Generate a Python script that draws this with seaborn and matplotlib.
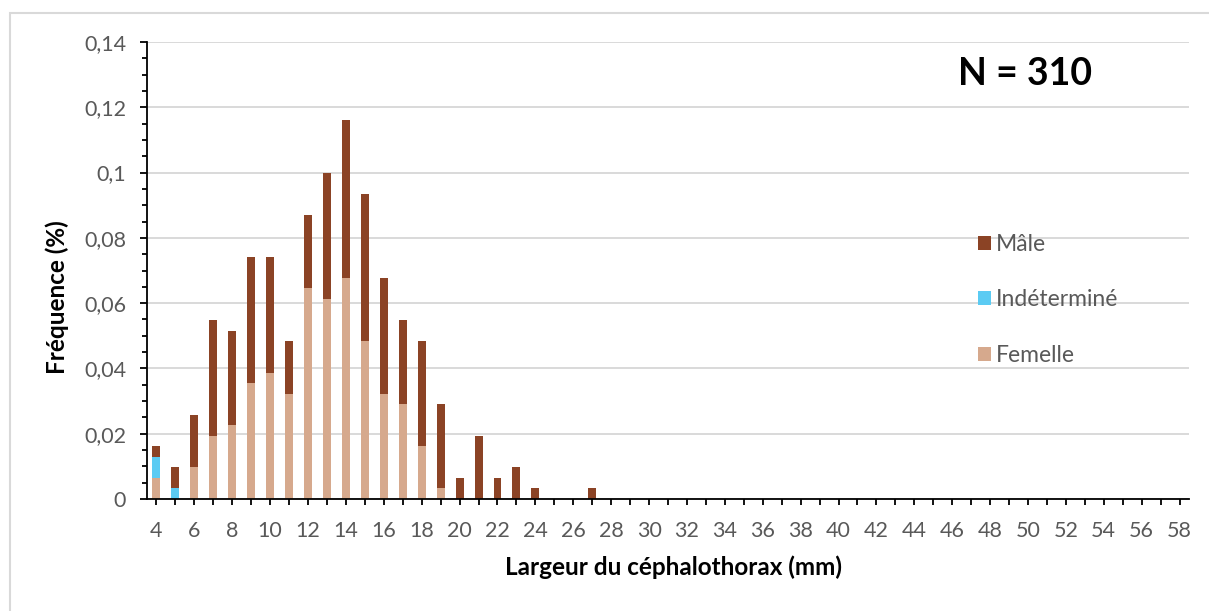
import matplotlib
matplotlib.use("Agg")
import matplotlib.pyplot as plt
import seaborn as sns
import pandas as pd
import numpy as np
from matplotlib.patches import Rectangle
from matplotlib.ticker import MultipleLocator

# ---- data (counts, N = 310) ----
sizes = [4, 5, 6, 7, 8, 9, 10, 11, 12, 13, 14, 15, 16, 17, 18, 19, 20, 21, 22, 23,
         24, 25, 26, 27, 28, 29, 30, 31, 32, 33, 34, 35, 36, 37, 38, 39, 40, 41, 42,
         43, 44, 45, 46, 47, 48, 49, 50, 51, 52, 53, 54, 55, 56, 57, 58]
femelle = [2, 0, 3, 6, 7, 11, 12, 10, 20, 19, 21, 15, 10, 9, 5, 1, 0, 0, 0, 0,
           0, 0, 0, 0, 0, 0, 0, 0, 0, 0, 0, 0, 0, 0, 0, 0, 0, 0, 0,
           0, 0, 0, 0, 0, 0, 0, 0, 0, 0, 0, 0, 0, 0, 0, 0]
indetermine = [2, 1, 0, 0, 0, 0, 0, 0, 0, 0, 0, 0, 0, 0, 0, 0, 0, 0, 0, 0,
               0, 0, 0, 0, 0, 0, 0, 0, 0, 0, 0, 0, 0, 0, 0, 0, 0, 0, 0,
               0, 0, 0, 0, 0, 0, 0, 0, 0, 0, 0, 0, 0, 0, 0, 0]
male = [1, 2, 5, 11, 9, 12, 11, 5, 7, 12, 15, 14, 11, 8, 10, 8, 2, 6, 2, 3,
        1, 0, 0, 1, 0, 0, 0, 0, 0, 0, 0, 0, 0, 0, 0, 0, 0, 0, 0,
        0, 0, 0, 0, 0, 0, 0, 0, 0, 0, 0, 0, 0, 0, 0, 0]
n_total = 310

y_ticks = [0, 0.02, 0.04, 0.06, 0.08, 0.10, 0.12, 0.14]
y_tick_labels = ["0", "0,02", "0,04", "0,06", "0,08", "0,1", "0,12", "0,14"]
x_label_sizes = [4, 6, 8, 10, 12, 14, 16, 18, 20, 22, 24, 26, 28, 30, 32, 34, 36, 38,
                 40, 42, 44, 46, 48, 50, 52, 54, 56, 58]

col_male = "#8B4325"
col_ind = "#5BCBF3"
col_fem = "#D6A98D"

sns.set_theme(style="white")
plt.rcParams["font.family"] = ["Lato", "DejaVu Sans"]

df = pd.DataFrame({
    "size": [str(s) for s in sizes],
    "fem": np.array(femelle) / n_total,
    "fem_ind": (np.array(femelle) + np.array(indetermine)) / n_total,
    "total": (np.array(femelle) + np.array(indetermine) + np.array(male)) / n_total,
})
order = list(df["size"])

W, H = 1209, 611
fig = plt.figure(figsize=(W / 100, H / 100), dpi=100)
ax = fig.add_axes([147 / W, 112 / H, 1042 / W, 457 / H])

common = dict(order=order, width=0.42, linewidth=0, saturation=1, errorbar=None, ax=ax)
sns.barplot(data=df, x="size", y="total", color=col_male, label="Mâle", **common)
sns.barplot(data=df, x="size", y="fem_ind", color=col_ind, label="Indéterminé", **common)
sns.barplot(data=df, x="size", y="fem", color=col_fem, label="Femelle", **common)

ax.set_xlim(-0.5, len(sizes) - 0.5)
ax.set_ylim(0, 0.14)
ax.set_yticks(y_ticks)
ax.set_yticklabels(y_tick_labels)
ax.yaxis.set_minor_locator(MultipleLocator(0.005))
ax.set_xticks(range(len(sizes)))
ax.set_xticklabels([str(s) if s in x_label_sizes else "" for s in sizes])

ax.yaxis.grid(True, color="#D9D9D9", lw=1.4)
ax.xaxis.grid(False)
ax.set_axisbelow(True)
for s in ["top", "right"]:
    ax.spines[s].set_visible(False)
for s in ["left", "bottom"]:
    ax.spines[s].set_color("black")
    ax.spines[s].set_linewidth(1.3)

tick_color = "#595959"
ax.tick_params(axis="x", which="major", bottom=True, length=4, width=1.3, color="black",
               direction="out", pad=12, labelsize=15.5, labelcolor=tick_color)
ax.tick_params(axis="y", which="major", left=True, length=5, width=1.3, color="black",
               direction="out", pad=10, labelsize=15.5, labelcolor=tick_color)
ax.tick_params(axis="y", which="minor", left=True, length=3.5, width=1.3, color="black",
               direction="out")

ax.set_xlabel("Largeur du céphalothorax (mm)", fontsize=17.5, fontweight="bold",
              color="black", va="center")
ax.xaxis.set_label_coords(0.505, (499 - 567) / 457)
ax.set_ylabel("Fréquence (%)", fontsize=17.5, fontweight="bold", color="black",
              va="center")
ax.yaxis.set_label_coords((57 - 147) / 1042, (499 - 297) / 457)

fig.text(1025 / W, 1 - 74 / H, "N = 310", fontsize=27, fontweight="bold",
         color="black", ha="center", va="center")

handles, labels = ax.get_legend_handles_labels()
leg = ax.legend(handles, labels, loc="center left",
                bbox_to_anchor=(978 / W, 1 - 300 / H), bbox_transform=fig.transFigure,
                frameon=False, fontsize=16.5, labelcolor=tick_color,
                handlelength=0.57, handleheight=0.57, handletextpad=0.22,
                labelspacing=1.5, borderpad=0, borderaxespad=0)

fig.add_artist(Rectangle((10 / W, -0.1), 1.2, 1.1 - 12.5 / H, transform=fig.transFigure,
                         fill=False, edgecolor="#D9D9D9", linewidth=1.5))

fig.savefig("out.png", dpi=100)
